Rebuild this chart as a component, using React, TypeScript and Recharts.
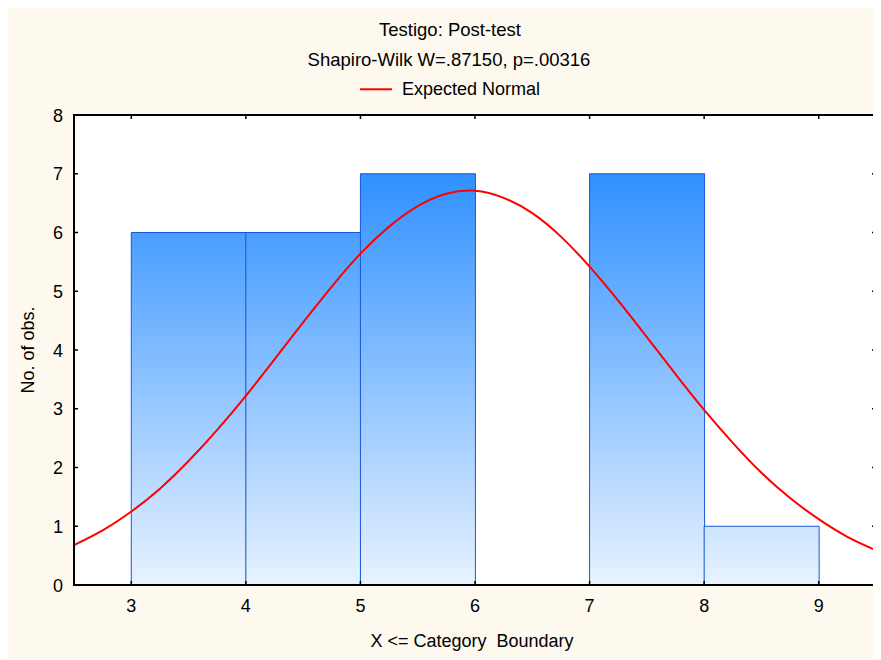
import React from "react";
import {
  ComposedChart,
  Bar,
  Line,
  XAxis,
  YAxis,
  CartesianGrid,
  Legend,
} from "recharts";

// Histogram bins (X <= category boundary) and observed counts
const binEdges = [3, 4, 5, 6, 7, 8, 9];
const counts = [6, 6, 7, 0, 7, 1];

// Expected normal curve
const curveX = [
  2.5, 2.75, 3, 3.25, 3.5, 3.75, 4, 4.25, 4.5, 4.75, 5, 5.25, 5.5, 5.75, 6,
  6.25, 6.5, 6.75, 7, 7.25, 7.5, 7.75, 8, 8.25, 8.5, 8.75, 9, 9.25, 9.5,
];
const curveY = [
  0.68, 0.93, 1.25, 1.64, 2.11, 2.64, 3.22, 3.84, 4.47, 5.08, 5.64, 6.1, 6.45,
  6.66, 6.71, 6.59, 6.33, 5.93, 5.42, 4.84, 4.22, 3.59, 2.98, 2.42, 1.91, 1.48,
  1.12, 0.82, 0.59,
];

const xTicks = [3, 4, 5, 6, 7, 8, 9];
const yTicks = [0, 1, 2, 3, 4, 5, 6, 7, 8];

const title = "Testigo: Post-test";
const subtitle = "Shapiro-Wilk W=.87150, p=.00316";
const legendLabel = "Expected Normal";

const binData = counts.map((c, i) => ({
  x: (binEdges[i] + binEdges[i + 1]) / 2,
  count: c,
}));
const curveData = curveX.map((x, i) => ({ x, y: curveY[i] }));

const FONT = "'Liberation Sans', Arial, sans-serif";
const W = 873;
const H = 656;
const PLOT_X = 66;
const PLOT_Y = 112;
const PLOT_W = 802;
const PLOT_H = 470;

function XTick(props: any) {
  const { x, y, payload } = props;
  return (
    <g>
      <line x1={x} y1={y} x2={x} y2={y - 4} stroke="#000" strokeWidth={1.5} />
      <line x1={x} y1={y - PLOT_H} x2={x} y2={y - PLOT_H + 4} stroke="#000" strokeWidth={1.5} />
      <text x={x} y={y + 27} textAnchor="middle" fontSize={18} fontFamily={FONT} fill="#000">
        {payload.value}
      </text>
    </g>
  );
}

function YTick(props: any) {
  const { x, y, payload } = props;
  return (
    <g>
      <line x1={x} y1={y} x2={x + 4} y2={y} stroke="#000" strokeWidth={1.5} />
      <line x1={x + PLOT_W} y1={y} x2={x + PLOT_W - 4} y2={y} stroke="#000" strokeWidth={1.5} />
      <text x={x - 11} y={y + 6.5} textAnchor="end" fontSize={18} fontFamily={FONT} fill="#000">
        {payload.value}
      </text>
    </g>
  );
}

function LegendContent() {
  return (
    <svg width={200} height={24} style={{ display: "block" }}>
      <line x1={2} y1={10.3} x2={34} y2={10.3} stroke="#ff0000" strokeWidth={2} />
      <text x={44} y={16} fontSize={18} fontFamily={FONT} fill="#000">
        {legendLabel}
      </text>
    </svg>
  );
}

export default function App() {
  const right = PLOT_X + PLOT_W;
  const bottom = PLOT_Y + PLOT_H;
  return (
    <div
      style={{
        position: "relative",
        marginTop: -5,
        width: W,
        height: H,
        background: "#fdf9ef",
        fontFamily: FONT,
      }}
    >
      <ComposedChart
        width={W}
        height={H}
        data={binData}
        margin={{ top: PLOT_Y, right: 5, bottom: 0, left: 0 }}
        barCategoryGap={0}
        barGap={0}
        style={{ position: "absolute", left: 0, top: 0 }}
      >
        <defs>
          <linearGradient id="barFill" gradientUnits="userSpaceOnUse" x1={0} y1={PLOT_Y} x2={0} y2={bottom}>
            <stop offset="0%" stopColor="#1582ff" />
            <stop offset="100%" stopColor="#e8f3ff" />
          </linearGradient>
        </defs>
        <rect x={PLOT_X} y={PLOT_Y} width={PLOT_W} height={PLOT_H} fill="#ffffff" />
        <CartesianGrid vertical={false} stroke="#dcdcdc" strokeWidth={1} />
        <Bar
          dataKey="count"
          xAxisId="bins"
          fill="url(#barFill)"
          stroke="#1858d8"
          strokeWidth={1}
          isAnimationActive={false}
        />
        <Line
          data={curveData}
          dataKey="y"
          xAxisId="curve"
          type="natural"
          stroke="#ff0000"
          strokeWidth={2}
          dot={false}
          activeDot={false}
          isAnimationActive={false}
        />
        <XAxis
          xAxisId="bins"
          dataKey="x"
          type="number"
          domain={[2.5, 9.5]}
          ticks={xTicks}
          allowDataOverflow
          height={74}
          axisLine={false}
          tickLine={false}
          tickSize={0}
          tickMargin={0}
          tick={<XTick />}
          interval={0}
          label={{
            value: "X <= Category\u00a0 Boundary",
            position: "insideBottom",
            offset: 12,
            dx: -3,
            fontSize: 18,
            fill: "#000",
            style: { fontFamily: FONT },
          }}
        />
        <XAxis
          xAxisId="curve"
          dataKey="x"
          type="number"
          domain={[2.5, 9.5]}
          allowDataOverflow
          hide
        />
        <YAxis
          type="number"
          domain={[0, 8]}
          ticks={yTicks}
          allowDataOverflow
          width={66}
          axisLine={false}
          tickLine={false}
          tickSize={0}
          tickMargin={0}
          tick={<YTick />}
          interval={0}
          label={{
            value: "No. of obs.",
            angle: -90,
            position: "insideLeft",
            offset: 20,
            fontSize: 18,
            fill: "#000",
            style: { textAnchor: "middle", fontFamily: FONT },
          }}
        />
        <Legend
          layout="vertical"
          align="center"
          verticalAlign="middle"
          wrapperStyle={{ position: "absolute", top: 76, left: 350, width: 200 }}
          content={<LegendContent />}
        />
      </ComposedChart>
      <svg
        width={W}
        height={H}
        style={{ position: "absolute", left: 0, top: 0, pointerEvents: "none", zIndex: 5 }}
      >
        <text x={442} y={33} textAnchor="middle" fontSize={18.5} fontFamily={FONT} fill="#000">
          {title}
        </text>
        <text x={441} y={62.7} textAnchor="middle" fontSize={18.5} fontFamily={FONT} fill="#000">
          {subtitle}
        </text>
        {/* plot frame */}
        <line x1={PLOT_X - 1} y1={PLOT_Y} x2={right + 1} y2={PLOT_Y} stroke="#000000" strokeWidth={2} />
        <line x1={right} y1={PLOT_Y} x2={right} y2={bottom} stroke="#000000" strokeWidth={2} />
        <line x1={PLOT_X - 1} y1={bottom} x2={right + 1} y2={bottom} stroke="#000000" strokeWidth={2} />
        <line x1={PLOT_X} y1={PLOT_Y} x2={PLOT_X} y2={bottom} stroke="#000000" strokeWidth={2} />
      </svg>
    </div>
  );
}
